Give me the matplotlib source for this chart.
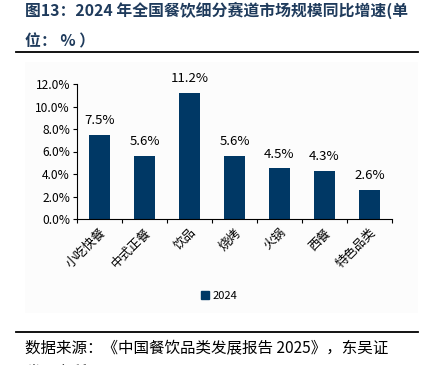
import matplotlib.pyplot as plt
from matplotlib.lines import Line2D
from matplotlib.patches import Rectangle

plt.rcParams['font.family'] = ['Noto Sans CJK SC', 'DejaVu Sans']

# data
categories = ['小吃快餐', '中式正餐', '饮品', '烧烤', '火锅', '西餐', '特色品类']
growth_2024 = [7.5, 5.6, 11.2, 5.6, 4.5, 4.3, 2.6]
yticks = [0, 2, 4, 6, 8, 10, 12]
ytick_labels = ['0.0%', '2.0%', '4.0%', '6.0%', '8.0%', '10.0%', '12.0%']
series_name = '2024'

BAR = '#003865'
TITLE_C = '#1f3b5c'

W, H = 426, 365
fig = plt.figure(figsize=(W / 100, H / 100), dpi=100)

def px(x, y):
    return x / W, 1 - y / H

# faint chart area background
fig.patches.append(Rectangle(px(25, 313), (418 - 25) / W, (313 - 62) / H,
                             transform=fig.transFigure, facecolor='#fcfcfc',
                             edgecolor='none', zorder=-5))

# title and rules
fig.text(*px(25, 10), '图13：2024 年全国餐饮细分赛道市场规模同比增速(单',
         fontsize=11.4, fontweight='bold', color=TITLE_C, va='center', ha='left')
fig.text(*px(25, 41), '位： % ）', fontsize=11.4, fontweight='bold',
         color=TITLE_C, va='center', ha='left')
fig.add_artist(Line2D([16 / W, 418 / W], [1 - 52 / H, 1 - 52 / H],
                      color='black', lw=1.3, transform=fig.transFigure))
fig.add_artist(Line2D([16 / W, 418 / W], [1 - 332 / H, 1 - 332 / H],
                      color='black', lw=1.3, transform=fig.transFigure))
fig.text(*px(25, 349), '数据来源：《中国餐饮品类发展报告 2025》，东吴证',
         fontsize=11.2, color='black', va='center', ha='left')
fig.text(*px(25, 373), '券研究所', fontsize=11.2, color='black',
         va='center', ha='left')

# axes
l, r, t, b = 77, 392, 84, 219
ax = fig.add_axes([l / W, 1 - b / H, (r - l) / W, (b - t) / H])
ax.set_facecolor('none')
x = range(len(categories))
bars = ax.bar(x, growth_2024, width=0.45, color=BAR, label=series_name)
for rect, v in zip(bars, growth_2024):
    ax.text(rect.get_x() + rect.get_width() / 2, v + 0.7, f'{v:.1f}%',
            ha='center', va='bottom', fontsize=9.5, color='black')

ax.set_xlim(-0.5, len(categories) - 0.5)
ax.set_ylim(0, 12)
ax.set_yticks(yticks)
ax.set_yticklabels(ytick_labels, fontsize=8.6)
ax.set_xticks([i - 0.5 for i in range(len(categories) + 1)], minor=False)
ax.set_xticklabels([])
ax.set_xticks(list(x), minor=True)
ax.set_xticklabels(categories, minor=True, rotation=45, ha='right',
                   rotation_mode='anchor', fontsize=9)
ax.tick_params(axis='x', which='minor', length=0, pad=5)
ax.tick_params(axis='x', which='major', length=3, direction='out')
ax.tick_params(axis='y', length=3, direction='out', pad=2)
for s in ['top', 'right']:
    ax.spines[s].set_visible(False)
for s in ['left', 'bottom']:
    ax.spines[s].set_linewidth(0.8)

fig.legend(handles=[Rectangle((0, 0), 1, 1, color=BAR)], labels=[series_name],
           loc='center', bbox_to_anchor=px(219, 296), frameon=False,
           fontsize=8, handlelength=0.7, handleheight=0.7, handletextpad=0.3)

fig.savefig('out.png', dpi=100)
